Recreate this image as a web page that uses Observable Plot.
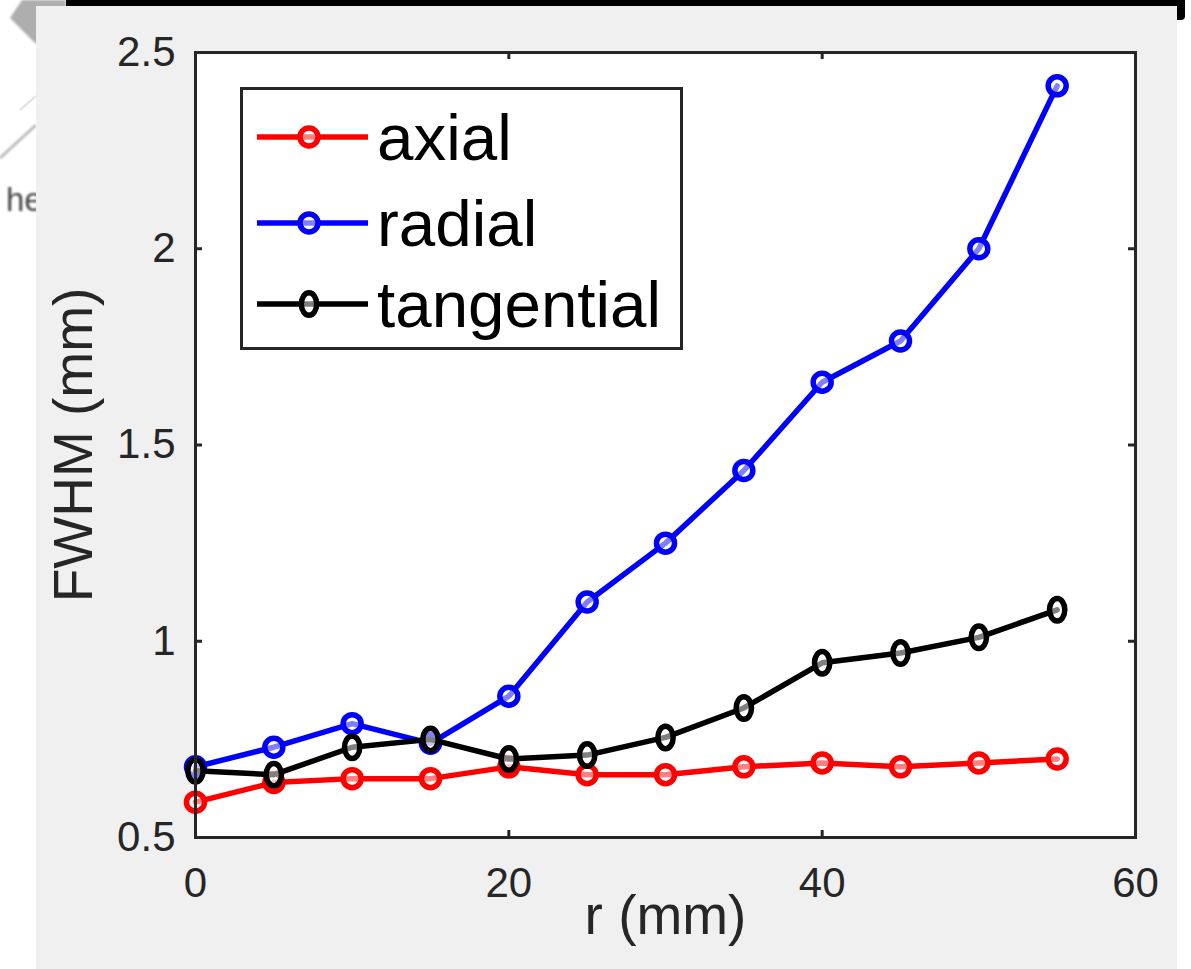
<!DOCTYPE html>
<html>
<head>
<meta charset="utf-8">
<script src="https://cdn.jsdelivr.net/npm/d3@7"></script>
<script src="https://cdn.jsdelivr.net/npm/@observablehq/plot@0.6"></script>
<style>
  html, body { margin: 0; padding: 0; background: #ffffff; width: 1191px; height: 969px; overflow: hidden; }
  #stage { position: relative; width: 1191px; height: 969px; }
  #panel { position: absolute; left: 36px; top: 6px; width: 1141px; height: 963px; background: #f0f0f0; }
  #topbar { position: absolute; left: 66px; top: 0; width: 1119px; height: 6px; background: #000; }
  #topbarEnd { position: absolute; left: 1177px; top: 0; width: 8px; height: 20px; background: #000; border-bottom-right-radius: 4px; }
  #deco { position: absolute; left: 0; top: 0; }
  #legend { position: absolute; left: 240px; top: 87px; }
</style>
</head>
<body>
<div id="stage">
  <svg id="deco" width="70" height="260">
    <polygon points="10,18 22,0 66,0 66,6 36,44" fill="#a0a0a0" opacity="0.85" style="filter: blur(1px)"></polygon>
    <line x1="0" y1="158" x2="36" y2="125" stroke="#b8b8b8" stroke-width="3" style="filter: blur(0.8px)"></line>
    <line x1="20" y1="110" x2="36" y2="96" stroke="#e0e0e0" stroke-width="2"></line>
    <text x="6" y="211" font-family="Liberation Sans, Arial, sans-serif" font-size="33" fill="#444" style="filter: blur(0.9px)">he</text>
  </svg>
  <div id="topbar"></div>
  <div id="topbarEnd"></div>
  <div id="panel"></div>
</div>
<script>
// ---- data ----
const rValues = [0, 5, 10, 15, 20, 25, 30, 35, 40, 45, 50, 55];
const axial = [0.59, 0.64, 0.65, 0.65, 0.68, 0.66, 0.66, 0.68, 0.69, 0.68, 0.69, 0.70];
const radial = [0.68, 0.73, 0.79, 0.74, 0.86, 1.10, 1.25, 1.435, 1.66, 1.765, 2.0, 2.415];
const tangential = [0.67, 0.66, 0.73, 0.75, 0.70, 0.71, 0.755, 0.83, 0.945, 0.97, 1.01, 1.08];
const seriesNames = ["axial", "radial", "tangential"];
const seriesColors = ["#ff0000", "#0000ff", "#000000"];
const xTicks = [0, 20, 40, 60];
const yTicks = [0.5, 1, 1.5, 2, 2.5];
const yTickLabels = ["0.5", "1", "1.5", "2", "2.5"];
const xLabel = "r (mm)";
const yLabel = "FWHM (mm)";

const seriesValues = [axial, radial, tangential];
const rows = [];
seriesNames.forEach((name, i) => {
  rValues.forEach((r, j) => rows.push({series: name, r, v: seriesValues[i][j]}));
});

const W = 1141, H = 963, mL = 159, mR = 42, mT = 46, mB = 132;
const plotH = H - mT - mB, plotW = W - mL - mR;
const tickLen = 7;
const font = "Liberation Sans, Arial, Helvetica, sans-serif";
const ink = "#262626";
const markerR = 9;

// vertical-ellipse marker (MATLAB diamond look at low resolution)
function ellipsePath(context, rx, ry) {
  const k = 0.5523;
  context.moveTo(0, -ry);
  context.bezierCurveTo(k * rx, -ry, rx, -k * ry, rx, 0);
  context.bezierCurveTo(rx, k * ry, k * rx, ry, 0, ry);
  context.bezierCurveTo(-k * rx, ry, -rx, k * ry, -rx, 0);
  context.bezierCurveTo(-rx, -k * ry, -k * rx, -ry, 0, -ry);
  context.closePath();
}
const ellipseSymbol = {
  draw(context, size) {
    const r = Math.sqrt(size / Math.PI);
    ellipsePath(context, r * 0.85, r * 1.25);
  }
};
const seriesSymbols = ["circle", "circle", ellipseSymbol];

const lineMarks = seriesNames.flatMap((name, i) => [
  Plot.line(rows.filter(d => d.series === name), {x: "r", y: "v", stroke: seriesColors[i], strokeWidth: 5.5}),
  Plot.dot(rows.filter(d => d.series === name), {x: "r", y: "v", stroke: seriesColors[i], strokeWidth: 5.5,
    r: markerR, symbol: seriesSymbols[i], fill: "white", fillOpacity: 0.5})
]);

const chart = Plot.plot({
  width: W, height: H,
  marginLeft: mL, marginRight: mR, marginTop: mT, marginBottom: mB,
  x: {domain: [0, 60]},
  y: {domain: [0.5, 2.5]},
  style: {background: "transparent", fontFamily: font, color: ink, overflow: "visible"},
  marks: [
    Plot.frame({fill: "white", stroke: null}),
    // inward ticks
    Plot.tickX(xTicks, {x: d => d, stroke: ink, strokeWidth: 3, insetTop: plotH - tickLen}),
    Plot.tickX(xTicks, {x: d => d, stroke: ink, strokeWidth: 3, insetBottom: plotH - tickLen}),
    Plot.tickY(yTicks, {y: d => d, stroke: ink, strokeWidth: 3, insetRight: plotW - tickLen}),
    Plot.tickY(yTicks, {y: d => d, stroke: ink, strokeWidth: 3, insetLeft: plotW - tickLen}),
    ...lineMarks,
    Plot.frame({stroke: ink, strokeWidth: 3}),
    Plot.axisX(xTicks, {tickSize: 0, tickPadding: 30, fontSize: 42, label: null, fill: ink}),
    Plot.axisY(yTicks, {tickSize: 0, tickPadding: 20, fontSize: 42, label: null, fill: ink,
      tickFormat: d => yTickLabels[yTicks.indexOf(d)]}),
    Plot.text([xLabel], {text: d => d, frameAnchor: "bottom", lineAnchor: "bottom", dy: 96, fontSize: 55, fill: ink}),
    Plot.text([yLabel], {text: d => d, frameAnchor: "left", textAnchor: "middle", lineAnchor: "bottom", rotate: -90, dx: -104, fontSize: 55, fill: ink})
  ]
});
chart.style.position = "absolute";
chart.style.left = "0px";
chart.style.top = "0px";
document.getElementById("panel").appendChild(chart);

// ---- legend (inside plot, drawn from series arrays) ----
const lg = d3.select("#stage").append("svg").attr("id", "legend").attr("width", 445).attr("height", 265);
lg.append("rect").attr("x", 1.5).attr("y", 1.5).attr("width", 440).attr("height", 260)
  .attr("fill", "white").attr("stroke", ink).attr("stroke-width", 3);
const rowY = [50, 136, 217];
seriesNames.forEach((name, i) => {
  const g = lg.append("g").attr("transform", `translate(0,${rowY[i]})`);
  g.append("line").attr("x1", 17).attr("x2", 128).attr("y1", 0).attr("y2", 0)
    .attr("stroke", seriesColors[i]).attr("stroke-width", 5.5);
  const p = d3.path();
  if (i === 2) ellipsePath(p, markerR * 0.85, markerR * 1.25); else p.arc(0, 0, markerR, 0, 2 * Math.PI);
  g.append("path").attr("transform", "translate(69,0)").attr("d", p.toString())
    .attr("fill", "white").attr("fill-opacity", 0.5).attr("stroke", seriesColors[i]).attr("stroke-width", 5.5);
  g.append("text").attr("x", 137).attr("y", 23).attr("font-family", font).attr("font-size", 65.5)
    .attr("fill", "#000").text(name);
});
</script>
</body>
</html>
